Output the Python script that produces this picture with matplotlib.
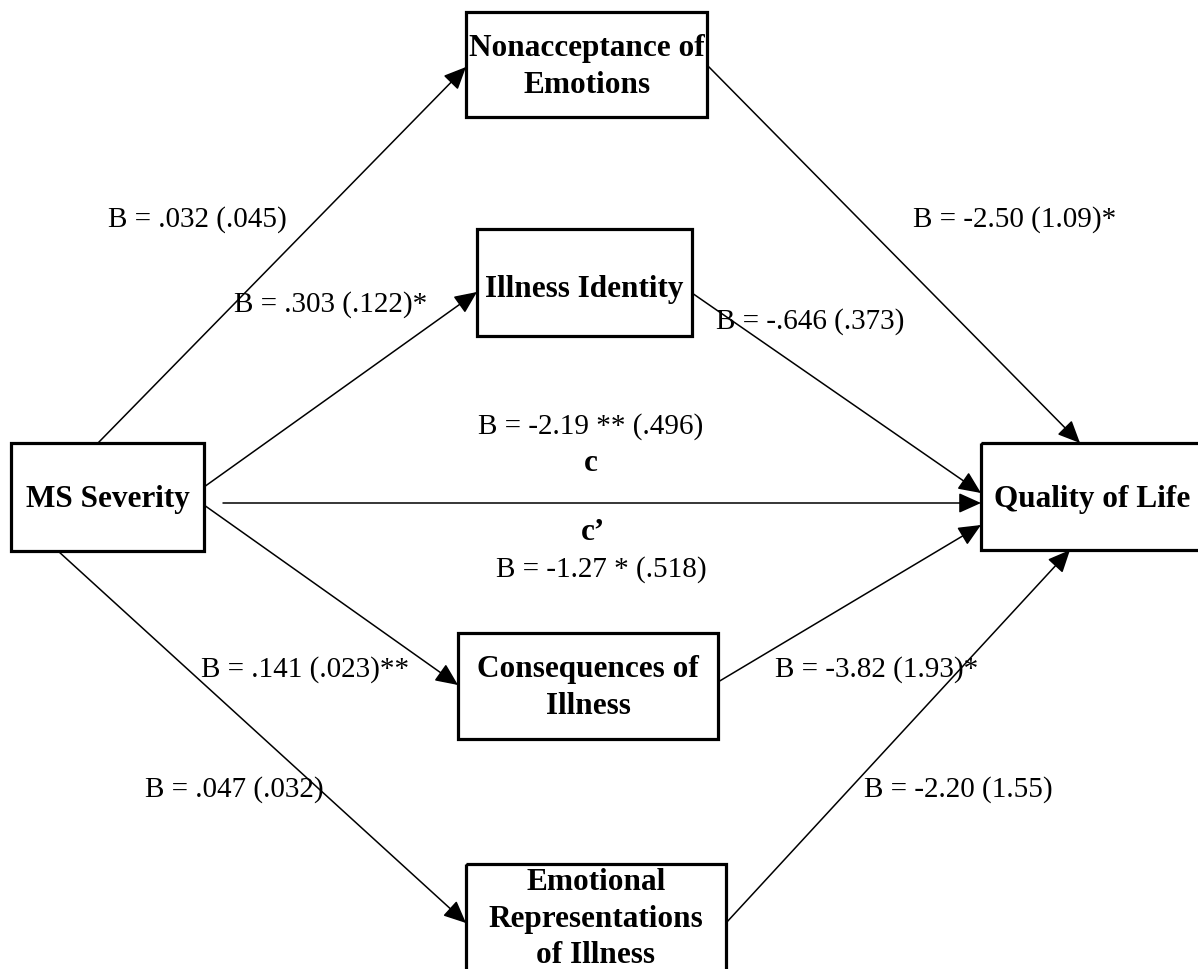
import matplotlib.pyplot as plt
from matplotlib.patches import Rectangle

# node labels
nodes = ["MS Severity", "Nonacceptance of\nEmotions", "Illness Identity",
         "Consequences of\nIllness", "Emotional\nRepresentations\nof Illness",
         "Quality of Life"]

# path estimates: a paths (predictor -> mediator), b paths (mediator -> outcome)
a_paths = ["B = .032 (.045)", "B = .303 (.122)*", "B = .141 (.023)**", "B = .047 (.032)"]
b_paths = ["B = -2.50 (1.09)*", "B = -.646 (.373)", "B = -3.82 (1.93)*", "B = -2.20 (1.55)"]
c_total = "B = -2.19 ** (.496)"
c_direct = "B = -1.27 * (.518)"

# layout (pixel coords, y downwards)
boxes = {
    0: (11, 443, 204, 551),
    1: (466, 12, 707, 117),
    2: (477, 229, 692, 336),
    3: (458, 633, 718, 739),
    4: (466, 864, 726, 990),
    5: (981, 443, 1210, 550),
}
text_pos = {0: (108, 500), 1: (587, 67), 2: (584, 290), 3: (588, 688),
            4: (596, 919), 5: (1092, 500)}

a_lines = [((98, 443), (466, 67)), ((204, 487), (477, 292)),
           ((204, 505), (458, 685)), ((58, 551), (466, 923))]
b_lines = [((707, 65), (1080, 443)), ((692, 293), (981, 493)),
           ((718, 682), (981, 525)), ((726, 923), (1070, 550))]
a_lab = [(197, 218), (331, 303), (305, 668), (234, 788)]
b_lab = [(1015, 218), (810, 320), (877, 668), (958, 788)]

plt.rcParams['font.family'] = ['Liberation Serif', 'DejaVu Serif']

fig = plt.figure(figsize=(11.98, 9.69), dpi=100)
ax = fig.add_axes([0, 0, 1, 1])
ax.set_xlim(0, 1198)
ax.set_ylim(969, 0)
ax.axis('off')

for i, name in enumerate(nodes):
    x0, y0, x1, y1 = boxes[i]
    ax.add_patch(Rectangle((x0, y0), x1 - x0, y1 - y0, fill=False,
                           edgecolor='black', linewidth=2.3))
    tx, ty = text_pos[i]
    ax.text(tx, ty, name, ha='center', va='center', fontsize=22.5,
            fontweight='bold', linespacing=1.32)

arrow = dict(arrowstyle='-|>,head_length=0.6,head_width=0.27', color='black',
             lw=1.1, shrinkA=0, shrinkB=0, mutation_scale=23)

for (p0, p1) in a_lines + b_lines:
    ax.annotate("", xy=p1, xytext=p0, arrowprops=arrow)

# direct path c / c'
ax.annotate("", xy=(981, 503), xytext=(223, 503), arrowprops=arrow)

for lab, pos in zip(a_paths + b_paths, a_lab + b_lab):
    ax.text(pos[0], pos[1] + 2, lab, ha='center', va='center', fontsize=21)

ax.text(591, 427, c_total, ha='center', va='center', fontsize=21)
ax.text(591, 463, "c", ha='center', va='center', fontsize=22.5, fontweight='bold')
ax.text(593, 533, "c\u2019", ha='center', va='center', fontsize=22.5, fontweight='bold')
ax.text(601, 570, c_direct, ha='center', va='center', fontsize=21)

fig.savefig("out.png", dpi=100)
